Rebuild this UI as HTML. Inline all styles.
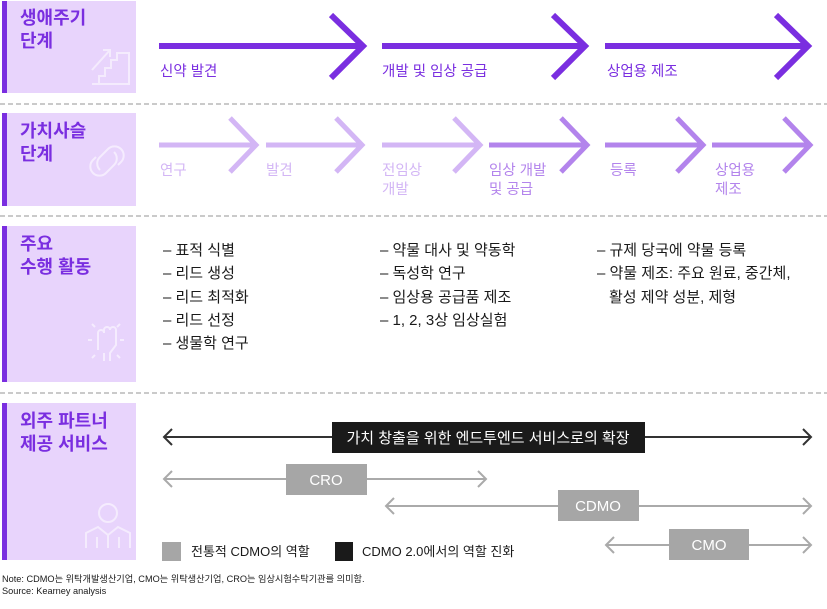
<!DOCTYPE html>
<html><head><meta charset="utf-8"><style>
body{margin:0;background:#fff;width:827px;height:604px;overflow:hidden}
svg text{font-family:"Liberation Sans","Noto Sans CJK KR",sans-serif}
.t{font-size:18px;font-weight:bold;fill:#7a2ee0}
.b{font-size:15px;fill:#1a1a1a}
</style></head><body>
<svg width="827" height="604" viewBox="0 0 827 604" xmlns="http://www.w3.org/2000/svg">
<g fill="#e8d4fc"><rect x="2" y="1" width="134" height="92"/><rect x="2" y="113" width="134" height="93"/><rect x="2" y="226" width="134" height="156"/><rect x="2" y="403" width="134" height="157"/></g>
<g fill="#7a2ee0"><rect x="2" y="1" width="5" height="92"/><rect x="2" y="113" width="5" height="93"/><rect x="2" y="226" width="5" height="156"/><rect x="2" y="403" width="5" height="157"/></g>
<g class="t"><text x="20" y="24">생애주기</text><text x="20" y="47">단계</text>
<text x="20" y="137">가치사슬</text><text x="20" y="160">단계</text>
<text x="20" y="250">주요</text><text x="20" y="273">수행 활동</text>
<text x="20" y="427">외주 파트너</text><text x="20" y="450">제공 서비스</text></g>
<g stroke="#f6eefe" stroke-width="2" fill="none" opacity="0.9">
<path d="M92 84H129V53H117V60H111V68H105V76H99V84"/><path d="M92 70L110 50M103 50H110V57"/>
<path d="M100 170a9 9 0 0 1 0-13l8-8a9 9 0 0 1 13 13l-3 3M114 152a9 9 0 0 1 0 13l-8 8a9 9 0 0 1-13-13l3-3"/>
<path d="M98 350V333a3 3 0 0 1 6 0V330a3 3 0 0 1 6 0a3 3 0 0 1 6 0V345l-6 8v8M104 361v-8M92 340h-4M120 340h4M95 327l-3-3M117 327l3-3M95 355l-3 3M117 355l3 3"/>
<circle cx="108" cy="513" r="9"/><path d="M86 548V533l12-6 10 8 10-8 12 6V548M97 548V537M119 548V537M108 535V548"/>
</g>
<g stroke="#aaa" stroke-width="1.2" stroke-dasharray="5,3"><line x1="0" y1="104" x2="827" y2="104"/><line x1="0" y1="216" x2="827" y2="216"/><line x1="0" y1="393" x2="827" y2="393"/></g>
<g fill="none" stroke="#7a2ee0" stroke-width="6"><path d="M159 46H363M331 15L363 46L331 78"/><path d="M382 46H585M553 15L585 46L553 78"/><path d="M605 46H808M776 15L808 46L776 78"/></g>
<g font-size="14.5" fill="#7a2ee0"><text x="160" y="76">신약 발견</text><text x="382" y="76">개발 및 임상 공급</text><text x="607" y="76">상업용 제조</text></g>
<g fill="none" stroke-width="5">
<path stroke="#d3b6f5" d="M159 145H256M230 118L256 145L230 172"/>
<path stroke="#d3b6f5" d="M266 145H362M336 118L362 145L336 172"/>
<path stroke="#d3b6f5" d="M382 145H480M454 118L480 145L454 172"/>
<path stroke="#b384ec" d="M489 145H587M561 118L587 145L561 172"/>
<path stroke="#b384ec" d="M605 145H703M677 118L703 145L677 172"/>
<path stroke="#b384ec" d="M712 145H810M784 118L810 145L784 172"/></g>
<g font-size="14.5"><text fill="#d3b6f5" x="160" y="175">연구</text><text fill="#d3b6f5" x="266" y="175">발견</text>
<text fill="#d3b6f5" x="382" y="175">전임상</text><text fill="#d3b6f5" x="382" y="194">개발</text>
<text fill="#b384ec" x="489" y="175">임상 개발</text><text fill="#b384ec" x="489" y="194">및 공급</text>
<text fill="#b384ec" x="610" y="175">등록</text>
<text fill="#b384ec" x="715" y="175">상업용</text><text fill="#b384ec" x="715" y="194">제조</text></g>
<g class="b"><text x="163" y="255">– 표적 식별</text><text x="163" y="278">– 리드 생성</text><text x="163" y="302">– 리드 최적화</text><text x="163" y="325">– 리드 선정</text><text x="163" y="348">– 생물학 연구</text>
<text x="380" y="255">– 약물 대사 및 약동학</text><text x="380" y="278">– 독성학 연구</text><text x="380" y="302">– 임상용 공급품 제조</text><text x="380" y="325">– 1, 2, 3상 임상실험</text>
<text x="597" y="255">– 규제 당국에 약물 등록</text><text x="597" y="278">– 약물 제조: 주요 원료, 중간체,</text><text x="609" y="302">활성 제약 성분, 제형</text></g>
<g fill="none" stroke="#333" stroke-width="2"><path d="M164 437H811M172 429L164 437L172 445M803 429L811 437L803 445"/></g>
<rect x="332" y="422" width="313" height="31" fill="#1a1a1a"/>
<text x="488" y="443" text-anchor="middle" font-size="15" fill="#fff">가치 창출을 위한 엔드투엔드 서비스로의 확장</text>
<g fill="none" stroke="#aaa" stroke-width="2">
<path d="M164 479H486M172 471L164 479L172 487M478 471L486 479L478 487"/>
<path d="M386 506H811M394 498L386 506L394 514M803 498L811 506L803 514"/>
<path d="M606 545H811M614 537L606 545L614 553M803 537L811 545L803 553"/></g>
<g fill="#a6a6a6"><rect x="286" y="464" width="81" height="31"/><rect x="558" y="490" width="81" height="31"/><rect x="669" y="529" width="80" height="31"/></g>
<g font-size="15" fill="#fff" text-anchor="middle"><text x="326" y="485">CRO</text><text x="598" y="511">CDMO</text><text x="709" y="550">CMO</text></g>
<rect x="162" y="542" width="19" height="19" fill="#a6a6a6"/><rect x="335" y="542" width="18" height="19" fill="#1a1a1a"/>
<g font-size="13" fill="#1a1a1a"><text x="191" y="556">전통적 CDMO의 역할</text><text x="362" y="556">CDMO 2.0에서의 역할 진화</text></g>
<g font-size="9.2" fill="#1a1a1a"><text x="2" y="582">Note: CDMO는 위탁개발생산기업, CMO는 위탁생산기업, CRO는 임상시험수탁기관를 의미함.</text><text x="2" y="594">Source: Kearney analysis</text></g>
</svg>
</body></html>
